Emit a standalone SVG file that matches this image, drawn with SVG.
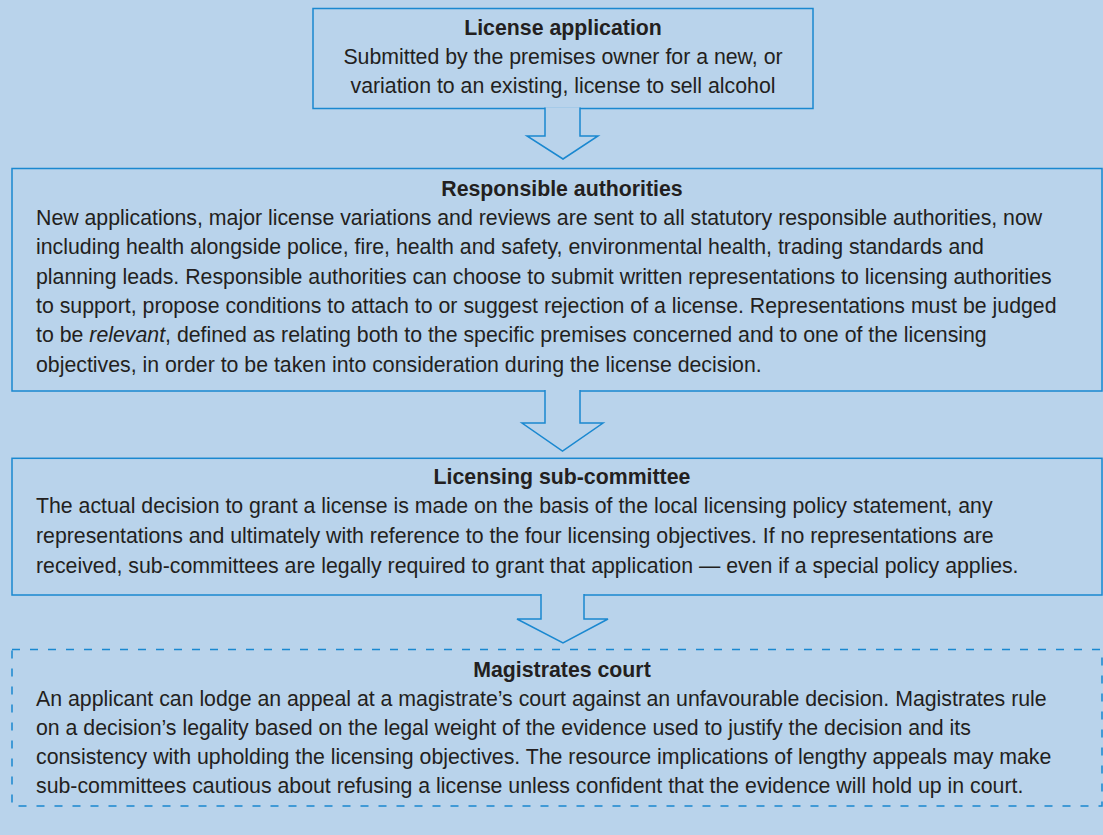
<svg xmlns="http://www.w3.org/2000/svg" width="1103" height="835" viewBox="0 0 1103 835">
<style>
.bg{fill:#b9d3eb}
.box{fill:#b9d3eb;stroke:#1a88d0;stroke-width:1.5}
.dash{stroke-dasharray:8 10}
.arrow{fill:#b9d3eb;stroke:#1a88d0;stroke-width:1.5;stroke-linejoin:miter}
text{font-family:"Liberation Sans",Arial,Helvetica,sans-serif;font-size:21.3px;fill:#231f20}
.t{font-weight:bold;text-anchor:middle}
.c{text-anchor:middle}
</style>
<rect class="bg" x="0" y="0" width="1103" height="835"/>
<g id="node-application">
<rect class="box" x="313" y="8.5" width="500" height="100"/>
<text class="t" x="563" y="35">License application</text>
<text class="c" x="563" y="64">Submitted by the premises owner for a new, or</text>
<text class="c" x="563" y="93">variation to an existing, license to sell alcohol</text>
</g>
<g id="node-authorities">
<rect class="box" x="12" y="168.5" width="1090" height="222.5"/>
<text class="t" x="562" y="196">Responsible authorities</text>
<text x="36" y="225">New applications, major license variations and reviews are sent to all statutory responsible authorities, now</text>
<text x="36" y="254.3">including health alongside police, fire, health and safety, environmental health, trading standards and</text>
<text x="36" y="283.6">planning leads. Responsible authorities can choose to submit written representations to licensing authorities</text>
<text x="36" y="313">to support, propose conditions to attach to or suggest rejection of a license. Representations must be judged</text>
<text x="36" y="342.2">to be <tspan font-style="italic">relevant</tspan>, defined as relating both to the specific premises concerned and to one of the licensing</text>
<text x="36" y="371.5">objectives, in order to be taken into consideration during the license decision.</text>
</g>
<g id="node-subcommittee">
<rect class="box" x="12" y="458.3" width="1090" height="136.7"/>
<text class="t" x="562" y="484">Licensing sub-committee</text>
<text x="36" y="513.3">The actual decision to grant a license is made on the basis of the local licensing policy statement, any</text>
<text x="36" y="543">representations and ultimately with reference to the four licensing objectives. If no representations are</text>
<text x="36" y="572.7">received, sub-committees are legally required to grant that application — even if a special policy applies.</text>
</g>
<g id="node-court">
<rect class="box dash" x="12" y="649.5" width="1090" height="156.5"/>
<text class="t" x="562" y="676.7">Magistrates court</text>
<text x="36" y="706">An applicant can lodge an appeal at a magistrate’s court against an unfavourable decision. Magistrates rule</text>
<text x="36" y="735">on a decision’s legality based on the legal weight of the evidence used to justify the decision and its</text>
<text x="36" y="764">consistency with upholding the licensing objectives. The resource implications of lengthy appeals may make</text>
<text x="36" y="793">sub-committees cautious about refusing a license unless confident that the evidence will hold up in court.</text>
</g>
<g id="connectors">
<path class="arrow" d="M545,107.5 V136 H527 L563,159 L598,136 H580 V107.5"/>
<path class="arrow" d="M545,390 V423 H522 L562.5,451 L603,423 H580 V390"/>
<path class="arrow" d="M541,594 V619 H517 L563,643 L608,619 H584 V594"/>
</g>
</svg>
